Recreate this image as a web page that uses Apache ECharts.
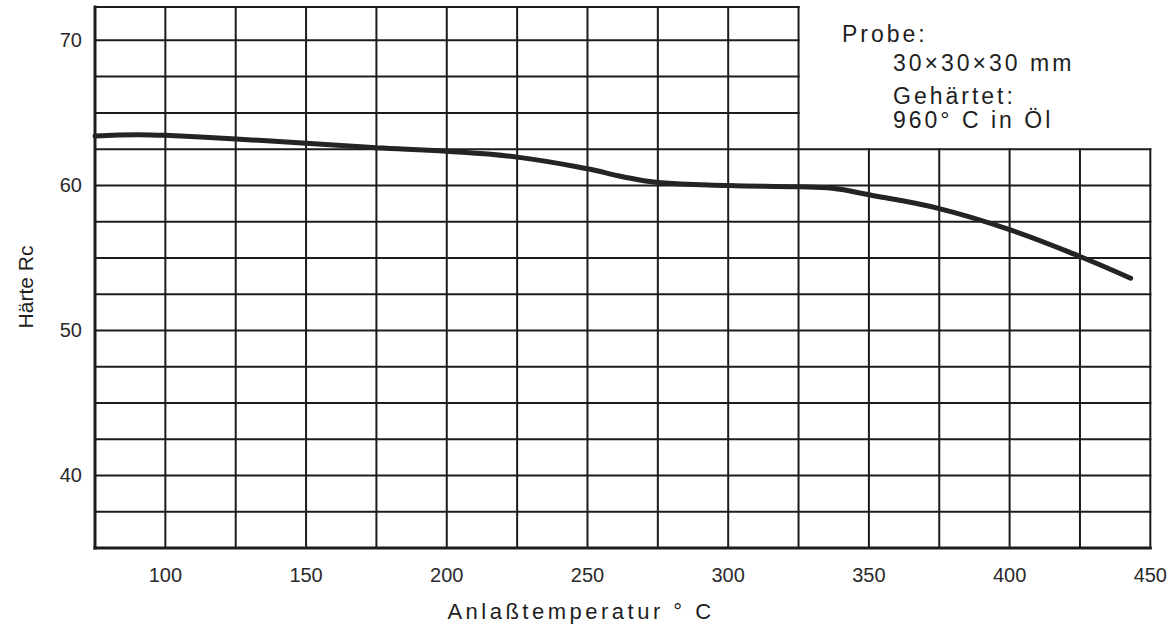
<!DOCTYPE html>
<html>
<head>
<meta charset="utf-8">
<script src="https://cdn.jsdelivr.net/npm/echarts@6/dist/echarts.min.js"></script>
<style>
  html, body { margin: 0; padding: 0; background: #fff; }
  #chart { width: 1170px; height: 629px; }
  /* spaced lettering for the note block (23px) and the temperature caption (22px) */
  #chart text[style*="23px"] { letter-spacing: 3px; }
  #chart text[style*="22px"] { letter-spacing: 3.5px; }
</style>
</head>
<body>
<div id="chart"></div>
<script>
// Grid ticks (tempering temperature in °C, hardness in HRC)
const tempTicks = [75, 100, 125, 150, 175, 200, 225, 250, 275, 300, 325, 350, 375, 400, 425, 450];
const hardTicks = [35, 37.5, 40, 42.5, 45, 47.5, 50, 52.5, 55, 57.5, 60, 62.5, 65, 67.5, 70];
const tempLabels = [100, 150, 200, 250, 300, 350, 400, 450];
const hardLabels = [40, 50, 60, 70];

// Hardness after tempering
const temperature = [75, 90, 100, 125, 150, 175, 200, 225, 250, 262.5, 275, 300, 325, 337, 350, 375, 400, 425, 443];
const hardness = [63.4, 63.5, 63.45, 63.2, 62.9, 62.6, 62.35, 61.95, 61.15, 60.6, 60.2, 60.0, 59.9, 59.8, 59.35, 58.4, 56.95, 55.1, 53.6];

// Upper edge of the grid, and the corner cut out for the note block
const hardTop = 72.3;
const notchTemp = 325;
const notchHard = 62.5;

const noteLines = ['Probe:', '30×30×30 mm', 'Gehärtet:', '960° C in Öl'];

const xMin = tempTicks[0];
const xMax = tempTicks[tempTicks.length - 1];
const yMin = hardTicks[0];

// Grid segments [x1, y1, x2, y2, width] in data units
const segments = [];
tempTicks.forEach(function (t) {
  const top = t <= notchTemp ? hardTop : notchHard;
  segments.push([t, yMin, t, top, t === xMin ? 3 : 2]);
});
hardTicks.concat([hardTop]).forEach(function (h) {
  const right = h > notchHard ? notchTemp : xMax;
  segments.push([xMin, h, right, h, h === yMin ? 3 : 2]);
});

const chart = echarts.init(document.getElementById('chart'), null, { renderer: 'svg' });

const textColor = '#1e1e1e';
const labelFont = 'Liberation Sans';

function note(text, x, y) {
  return {
    type: 'text', x: x, y: y, silent: true,
    style: { text: text, fontSize: 23, fontFamily: labelFont, fill: textColor,
             textAlign: 'left', textVerticalAlign: 'middle' }
  };
}

chart.setOption({
  animation: false,
  backgroundColor: '#ffffff',
  grid: { left: 95, right: 18, top: 7, bottom: 81, containLabel: false },
  xAxis: {
    type: 'value',
    min: xMin,
    max: xMax,
    interval: 25,
    axisLine: { show: false },
    axisTick: { show: false },
    splitLine: { show: false },
    axisLabel: {
      margin: 17,
      fontSize: 20,
      fontFamily: labelFont,
      color: '#2a2a2a',
      formatter: function (v) { return tempLabels.indexOf(v) >= 0 ? String(v) : ''; }
    }
  },
  yAxis: {
    type: 'value',
    min: yMin,
    max: hardTop,
    interval: 2.5,
    axisLine: { show: false },
    axisTick: { show: false },
    splitLine: { show: false },
    axisLabel: {
      margin: 13,
      fontSize: 20,
      fontFamily: labelFont,
      color: '#2a2a2a',
      formatter: function (v) { return hardLabels.indexOf(v) >= 0 ? String(v) : ''; }
    }
  },
  graphic: [
    {
      type: 'text', x: 581, y: 611, silent: true,
      style: { text: 'Anlaßtemperatur ° C', fontSize: 22, fontFamily: labelFont, fill: textColor,
               textAlign: 'center', textVerticalAlign: 'middle' }
    },
    {
      type: 'text', x: 25, y: 287, rotation: Math.PI / 2, silent: true,
      style: { text: 'Härte Rc', fontSize: 21, fontFamily: labelFont, fill: textColor,
               textAlign: 'center', textVerticalAlign: 'middle' }
    },
    note(noteLines[0], 842, 34),
    note(noteLines[1], 893, 63),
    note(noteLines[2], 893, 96),
    note(noteLines[3], 893, 120)
  ],
  series: [
    {
      type: 'custom',
      silent: true,
      clip: false,
      z: 1,
      data: segments,
      encode: { x: [0, 2], y: [1, 3] },
      renderItem: function (params, api) {
        const a = api.coord([api.value(0), api.value(1)]);
        const b = api.coord([api.value(2), api.value(3)]);
        return {
          type: 'line',
          shape: { x1: a[0], y1: a[1], x2: b[0], y2: b[1] },
          style: { stroke: '#1c1c1c', lineWidth: api.value(4), lineCap: 'square' }
        };
      }
    },
    {
      type: 'line',
      z: 3,
      data: temperature.map(function (t, i) { return [t, hardness[i]]; }),
      smooth: 0.4,
      showSymbol: false,
      lineStyle: { width: 5, color: '#242424', cap: 'round' }
    }
  ]
});
</script>
</body>
</html>
